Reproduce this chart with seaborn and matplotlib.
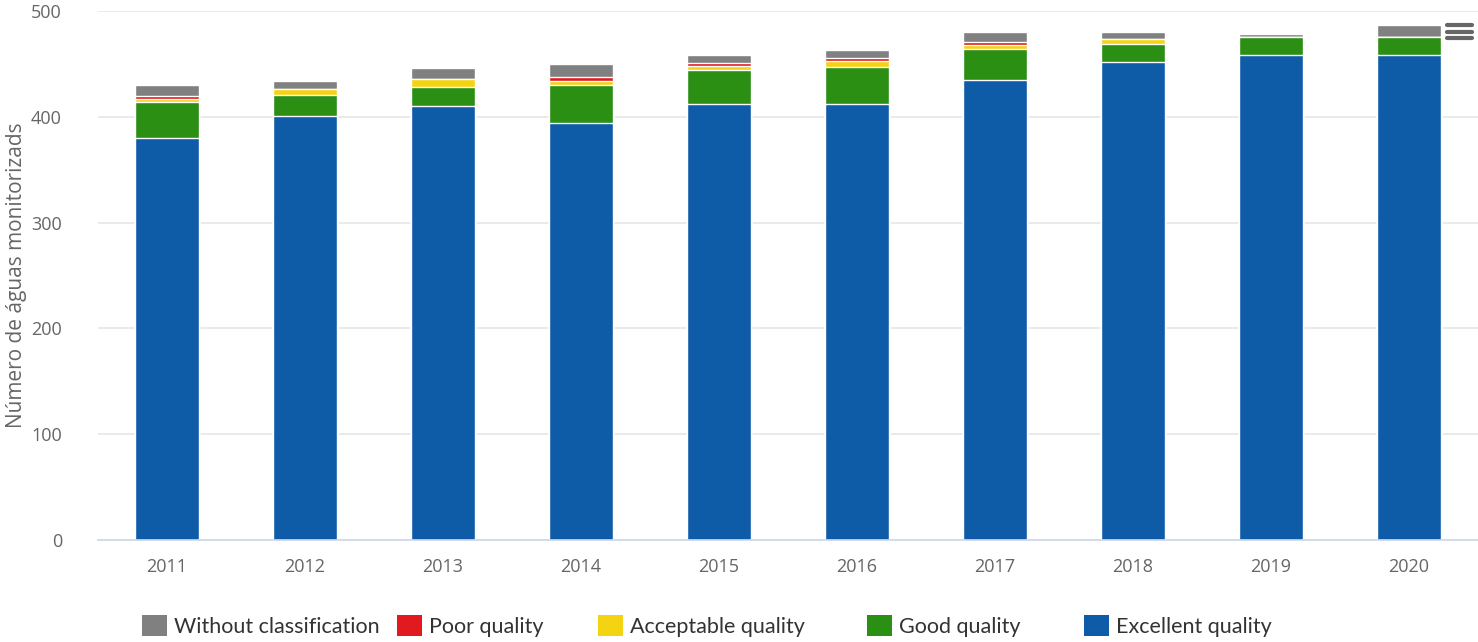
import matplotlib
matplotlib.use("Agg")
import matplotlib.pyplot as plt
import seaborn as sns
import numpy as np
import pandas as pd
from matplotlib.patches import Patch
from matplotlib.ticker import FixedLocator

years = ["2011", "2012", "2013", "2014", "2015", "2016", "2017", "2018", "2019", "2020"]
excellent = [380, 401, 410, 394, 412, 412, 435, 452, 458, 458]
good = [34, 20, 18, 36, 32, 35, 29, 17, 17, 17]
acceptable = [3, 5, 8, 4, 4, 6, 4, 5, 0, 0]
poor = [3, 0, 0, 4, 3, 3, 3, 0, 0, 0]
without = [10, 8, 10, 12, 7, 7, 9, 6, 3, 12]

series_names = ["Without classification", "Poor quality", "Acceptable quality", "Good quality", "Excellent quality"]
colors = {"Excellent quality": "#0e5ca8", "Good quality": "#2a8f13", "Acceptable quality": "#f4d313",
          "Poor quality": "#e01a1f", "Without classification": "#808080"}

sns.set_theme(style="white")
plt.rcParams['font.family'] = ['Open Sans', 'DejaVu Sans']

fig = plt.figure(figsize=(14.78, 6.42), dpi=100)
ax = fig.add_axes([98/1478, 1 - 540/642, 1 - 98/1478, (540 - 11)/642])

stack_order = ["Excellent quality", "Good quality", "Acceptable quality", "Poor quality", "Without classification"]
vals = {"Excellent quality": excellent, "Good quality": good, "Acceptable quality": acceptable,
        "Poor quality": poor, "Without classification": without}
cum = np.zeros(len(years))
cums = {}
for name in stack_order:
    cum = cum + np.array(vals[name], dtype=float)
    cums[name] = cum.copy()

for name in reversed(stack_order):
    df = pd.DataFrame({"year": years, "value": cums[name]})
    sns.barplot(data=df, x="year", y="value", color=colors[name], width=0.47,
                edgecolor="white", linewidth=1.0, saturation=1, ax=ax, zorder=3)

ax.set_ylim(0, 500)
ax.set_xlim(-0.5, len(years) - 0.5)
ax.set_yticks([0, 100, 200, 300, 400, 500])
ax.grid(axis="y", color="#e6e6e6", linewidth=1.2, zorder=0)
ax.set_axisbelow(True)
for s in ["top", "right", "left"]:
    ax.spines[s].set_visible(False)
ax.spines["bottom"].set_color("#ccd6eb")
ax.spines["bottom"].set_linewidth(1.2)
ax.spines["bottom"].set_zorder(4)

ax.tick_params(axis="y", length=0, pad=26, labelsize=13, labelcolor="#666666")
ax.tick_params(axis="x", which="major", length=0, pad=13, labelsize=13, labelcolor="#666666")
ax.xaxis.set_minor_locator(FixedLocator(np.arange(0.5, len(years) - 0.5, 1.0)))
ax.tick_params(axis="x", which="minor", length=11, width=1.2, color="#ccd6eb", direction="out")

ax.set_xlabel("")
ax.set_ylabel("Número de águas monitorizads", fontsize=15, color="#666666")
ax.yaxis.set_label_coords(-71/1380, 0.5)

# legend items placed individually to match spacing
leg_x = [142, 397, 598, 867, 1084]
for name, lx in zip(series_names, leg_x):
    fig.legend([Patch(facecolor=colors[name], edgecolor="none")], [name],
               loc="center left", bbox_to_anchor=(lx / 1478, 1 - 626 / 642),
               frameon=False, handlelength=1.15, handleheight=1.15,
               handletextpad=0.35, borderpad=0, borderaxespad=0, labelcolor="#333333",
               prop={"family": ["Lato", "DejaVu Sans"], "size": 15.5})

# export menu icon
for yy in [25, 31.5, 38]:
    fig.add_artist(plt.Line2D([1447/1478, 1472/1478], [1 - yy/642, 1 - yy/642],
                              color="#666666", linewidth=3, solid_capstyle="round"))

fig.savefig("out.png", dpi=100)
